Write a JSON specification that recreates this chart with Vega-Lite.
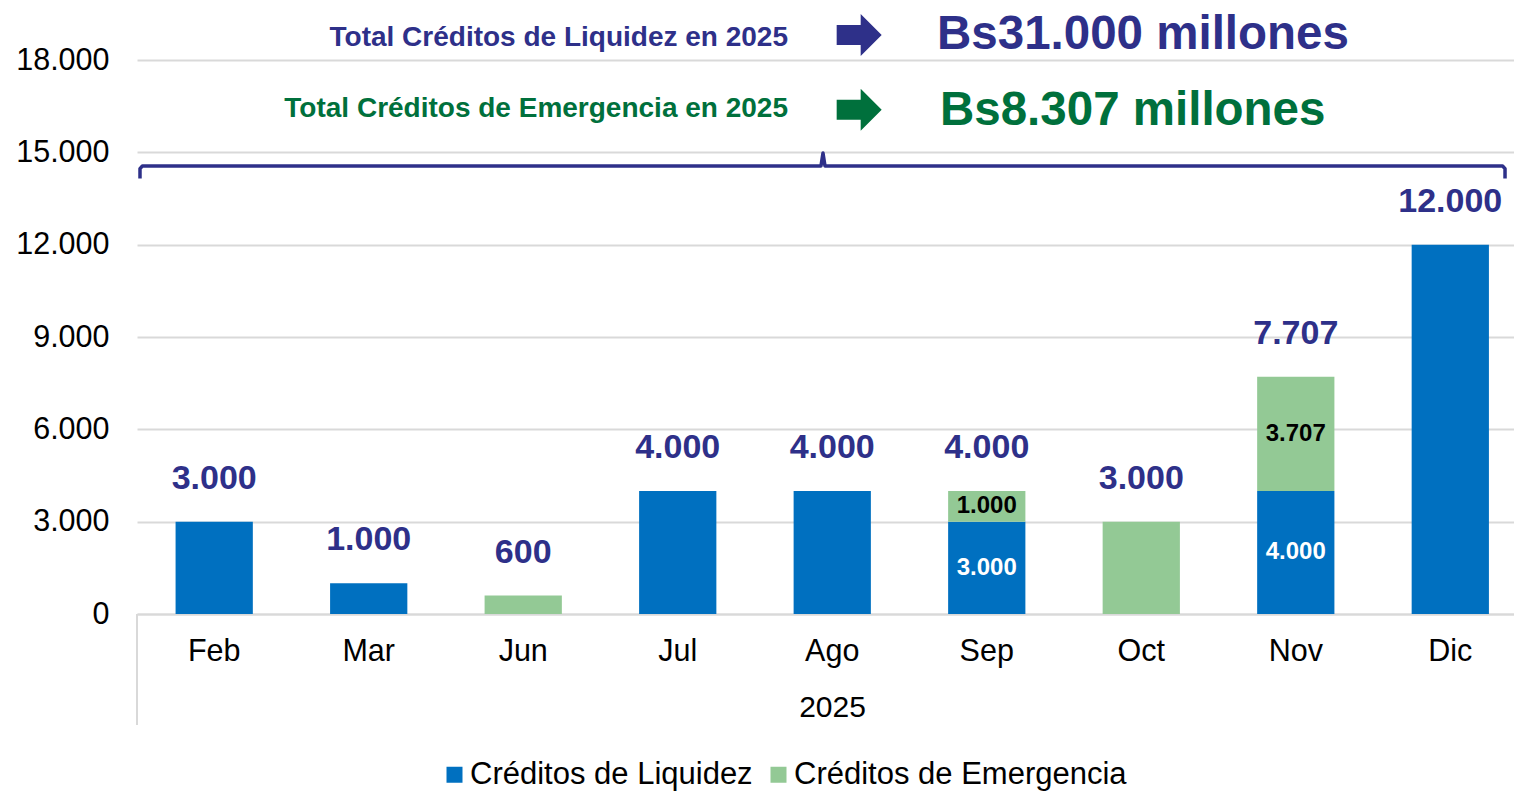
{
  "$schema": "https://vega.github.io/schema/vega-lite/v6.json",
  "width": 1377,
  "height": 614,
  "autosize": {"type": "none"},
  "padding": {"left": 137, "top": 0, "right": 0, "bottom": 178},
  "config": {
    "view": {"stroke": null},
    "font": "Liberation Sans",
    "locale": {"number": {"decimal": ",", "thousands": ".", "grouping": [3], "currency": ["Bs", ""]}}
  },
  "datasets": {
    "creditos": [
      {"mes": "Feb", "tipo": "Créditos de Liquidez", "valor": 3000},
      {"mes": "Mar", "tipo": "Créditos de Liquidez", "valor": 1000},
      {"mes": "Jun", "tipo": "Créditos de Emergencia", "valor": 600},
      {"mes": "Jul", "tipo": "Créditos de Liquidez", "valor": 4000},
      {"mes": "Ago", "tipo": "Créditos de Liquidez", "valor": 4000},
      {"mes": "Sep", "tipo": "Créditos de Liquidez", "valor": 3000},
      {"mes": "Sep", "tipo": "Créditos de Emergencia", "valor": 1000},
      {"mes": "Oct", "tipo": "Créditos de Emergencia", "valor": 3000},
      {"mes": "Nov", "tipo": "Créditos de Liquidez", "valor": 4000},
      {"mes": "Nov", "tipo": "Créditos de Emergencia", "valor": 3707},
      {"mes": "Dic", "tipo": "Créditos de Liquidez", "valor": 12000}
    ],
    "encabezado": [
      {"x": 4.2133, "y": 18455, "texto": "Total Créditos de Liquidez en 2025", "grupo": "L"},
      {"x": 4.2133, "y": 16148, "texto": "Total Créditos de Emergencia en 2025", "grupo": "E"}
    ],
    "montos": [
      {"x": 5.1777, "y": 18374, "texto": "Bs31.000 millones", "grupo": "L"},
      {"x": 5.197, "y": 15888, "texto": "Bs8.307 millones", "grupo": "E"}
    ],
    "flechas": [
      {"x": 4.674, "y": 18812, "grupo": "L"},
      {"x": 4.674, "y": 16385, "grupo": "E"}
    ],
    "llave": [
      {"i": 1, "x": 0.0194, "y": 14150},
      {"i": 2, "x": 0.0194, "y": 14470},
      {"i": 3, "x": 0.035, "y": 14556},
      {"i": 4, "x": 4.4268, "y": 14556},
      {"i": 5, "x": 4.4398, "y": 14978},
      {"i": 6, "x": 4.4528, "y": 14556},
      {"i": 7, "x": 8.838, "y": 14556},
      {"i": 8, "x": 8.854, "y": 14470},
      {"i": 9, "x": 8.854, "y": 14150}
    ],
    "separador": [{"x": 0, "y": 0, "y2": -3607}]
  },
  "resolve": {"scale": {"x": "independent"}, "axis": {"x": "independent"}},
  "layer": [
    {
      "data": {"name": "creditos"},
      "layer": [
        {
          "mark": {"type": "bar"},
          "encoding": {
            "x": {
              "field": "mes", "type": "nominal",
              "sort": ["Feb", "Mar", "Jun", "Jul", "Ago", "Sep", "Oct", "Nov", "Dic"],
              "scale": {"domain": ["Feb", "Mar", "Jun", "Jul", "Ago", "Sep", "Oct", "Nov", "Dic"], "paddingInner": 0.5, "paddingOuter": 0.206, "align": 0.606},
              "axis": {
                "title": "2025", "titleFontSize": 30, "titleFontWeight": "normal", "titleColor": "#000000", "titlePadding": 26,
                "titleFont": "Liberation Sans", "titleX": 695,
                "labelFontSize": 30.5, "labelColor": "#000000", "labelPadding": 22, "labelAngle": 0, "labelFont": "Liberation Sans",
                "ticks": false, "domain": true, "domainColor": "#D9D9D9", "domainWidth": 2, "grid": false
              }
            },
            "y": {
              "field": "valor", "type": "quantitative", "stack": "zero",
              "scale": {"domain": [0, 19950], "nice": false},
              "axis": {
                "title": null, "values": [0, 3000, 6000, 9000, 12000, 15000, 18000],
                "labelExpr": "replace(format(datum.value, ',d'), ',', '.')",
                "labelFontSize": 30.5, "labelColor": "#000000", "labelPadding": 28, "labelFont": "Liberation Sans",
                "ticks": false, "domain": false, "grid": true, "gridColor": "#D9D9D9", "gridWidth": 2
              }
            },
            "color": {
              "field": "tipo", "type": "nominal",
              "scale": {"domain": ["Créditos de Liquidez", "Créditos de Emergencia"], "range": ["#0070C0", "#93C995"]},
              "legend": {
                "orient": "none", "legendX": 302, "legendY": 759, "direction": "horizontal", "title": null,
                "symbolType": "square", "symbolSize": 256, "symbolStrokeWidth": 0, "symbolOpacity": 1,
                "labelFontSize": 31, "labelFont": "Liberation Sans", "labelColor": "#000000", "labelOffset": 0,
                "labelLimit": 600, "columnPadding": 10
              }
            },
            "order": {"field": "tipo", "sort": "descending"}
          }
        },
        {
          "mark": {"type": "text", "baseline": "alphabetic", "dy": -33, "fontSize": 34, "fontWeight": "bold", "color": "#2E3089", "font": "Liberation Sans"},
          "encoding": {
            "x": {"field": "mes", "type": "nominal", "sort": ["Feb", "Mar", "Jun", "Jul", "Ago", "Sep", "Oct", "Nov", "Dic"]},
            "y": {"aggregate": "sum", "field": "valor", "type": "quantitative"},
            "text": {"aggregate": "sum", "field": "valor", "type": "quantitative", "format": ","}
          }
        },
        {
          "transform": [
            {"joinaggregate": [{"op": "count", "as": "n"}], "groupby": ["mes"]},
            {"filter": "datum.n > 1"},
            {"stack": "valor", "groupby": ["mes"], "sort": [{"field": "tipo", "order": "descending"}], "as": ["y0", "y1"]},
            {"calculate": "(datum.y0 + datum.y1) / 2", "as": "ym"}
          ],
          "mark": {"type": "text", "baseline": "middle", "fontSize": 24, "fontWeight": "bold", "font": "Liberation Sans"},
          "encoding": {
            "x": {"field": "mes", "type": "nominal", "sort": ["Feb", "Mar", "Jun", "Jul", "Ago", "Sep", "Oct", "Nov", "Dic"]},
            "y": {"field": "ym", "type": "quantitative"},
            "text": {"field": "valor", "type": "quantitative", "format": ","},
            "color": {"condition": {"test": "datum.tipo === 'Créditos de Liquidez'", "value": "#FFFFFF"}, "value": "#000000"}
          }
        }
      ]
    },
    {
      "layer": [
        {
          "data": {"name": "separador"},
          "mark": {"type": "rule", "color": "#D9D9D9", "strokeWidth": 2, "clip": false},
          "encoding": {
            "x": {"field": "x", "type": "quantitative", "scale": {"domain": [0, 8.9121], "nice": false, "zero": false}, "axis": null},
            "y": {"field": "y", "type": "quantitative"},
            "y2": {"field": "y2"}
          }
        },
        {
          "data": {"name": "llave"},
          "mark": {"type": "line", "color": "#2E3089", "strokeWidth": 3.5, "strokeJoin": "round", "strokeCap": "butt", "clip": false},
          "encoding": {
            "x": {"field": "x", "type": "quantitative", "axis": null},
            "y": {"field": "y", "type": "quantitative"},
            "order": {"field": "i", "type": "quantitative"}
          }
        },
        {
          "data": {"name": "flechas"},
          "mark": {"type": "point", "filled": true, "opacity": 1, "size": 2025, "strokeWidth": 0, "clip": false,
                   "shape": "M-1,-0.444L0.067,-0.444L0.067,-0.933L1,0L0.067,0.933L0.067,0.444L-1,0.444Z"},
          "encoding": {
            "x": {"field": "x", "type": "quantitative", "axis": null},
            "y": {"field": "y", "type": "quantitative"},
            "color": {"condition": {"test": "datum.grupo === 'L'", "value": "#2E3089"}, "value": "#00703C"}
          }
        },
        {
          "data": {"name": "encabezado"},
          "mark": {"type": "text", "align": "right", "baseline": "alphabetic", "fontSize": 28, "fontWeight": "bold", "font": "Liberation Sans", "clip": false},
          "encoding": {
            "x": {"field": "x", "type": "quantitative", "axis": null},
            "y": {"field": "y", "type": "quantitative"},
            "text": {"field": "texto"},
            "color": {"condition": {"test": "datum.grupo === 'L'", "value": "#2E3089"}, "value": "#00703C"}
          }
        },
        {
          "data": {"name": "montos"},
          "mark": {"type": "text", "align": "left", "baseline": "alphabetic", "fontSize": 47.5, "fontWeight": "bold", "font": "Liberation Sans", "clip": false},
          "encoding": {
            "x": {"field": "x", "type": "quantitative", "axis": null},
            "y": {"field": "y", "type": "quantitative"},
            "text": {"field": "texto"},
            "color": {"condition": {"test": "datum.grupo === 'L'", "value": "#2E3089"}, "value": "#00703C"}
          }
        }
      ]
    }
  ]
}
